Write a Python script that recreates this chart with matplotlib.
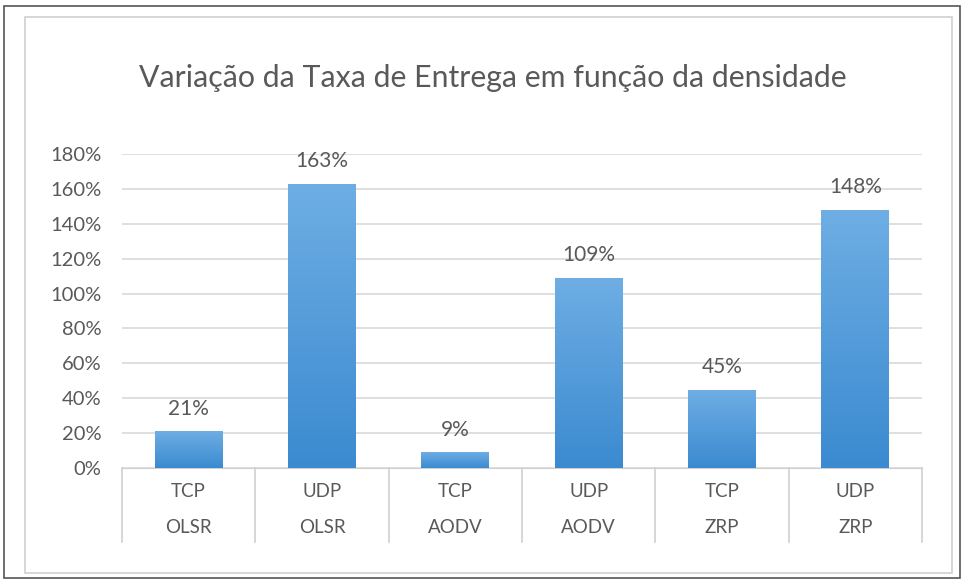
import matplotlib
matplotlib.use("Agg")
import matplotlib.pyplot as plt
import numpy as np
from matplotlib.patches import Rectangle
from matplotlib.colors import LinearSegmentedColormap
import matplotlib.transforms as mtransforms

protocols = ["TCP", "UDP", "TCP", "UDP", "TCP", "UDP"]
routing = ["OLSR", "OLSR", "AODV", "AODV", "ZRP", "ZRP"]
values = [0.21, 1.63, 0.09, 1.09, 0.45, 1.48]
labels = ["21%", "163%", "9%", "109%", "45%", "148%"]
yticks = [0, 0.2, 0.4, 0.6, 0.8, 1.0, 1.2, 1.4, 1.6, 1.8]
ytick_labels = ["0%", "20%", "40%", "60%", "80%", "100%", "120%", "140%", "160%", "180%"]
title = "Variação da Taxa de Entrega em função da densidade"

plt.rcParams['font.family'] = ['Lato', 'DejaVu Sans']
txt = "#595959"
W, H = 964, 582
fig = plt.figure(figsize=(W/100, H/100), dpi=100)
fig.patch.set_facecolor("white")

# borders
fig.patches.append(Rectangle((4/W, 1-578/H), 956/W, 572/H, transform=fig.transFigure,
                             fill=False, edgecolor="#555555", lw=1.2))
fig.patches.append(Rectangle((25/W, 1-573/H), 927/W, 556/H, transform=fig.transFigure,
                             fill=False, edgecolor="#d0d0d0", lw=1.2))

ax = fig.add_axes([122/W, 1-468/H, 800/W, 314/H])
n = len(values)
x = np.arange(n)
ax.set_xlim(-0.5, n-0.5)
ax.set_ylim(0, 1.8)
ax.set_yticks(yticks)
ax.set_yticklabels(ytick_labels, color=txt, fontsize=14.5)
ax.tick_params(axis='y', length=0, pad=15)
ax.set_xticks([])
for s in ["top", "right", "left"]:
    ax.spines[s].set_visible(False)
ax.spines["bottom"].set_color("#d0d0d0")
ax.yaxis.grid(True, color="#d9d9d9", lw=1.2)
ax.set_axisbelow(True)

cmap = LinearSegmentedColormap.from_list("g", ["#3b8ad0", "#6eaee4"])
grad = np.linspace(0, 1, 256).reshape(-1, 1)
bw = 0.51
bars = ax.bar(x, values, width=bw, color="#5b9bd5", zorder=2)
for b, v, lab in zip(bars, values, labels):
    x0 = b.get_x()
    im = ax.imshow(grad, extent=(x0, x0+bw, 0, v), origin="lower", aspect="auto",
                   cmap=cmap, zorder=3)
    im.set_clip_path(b)
    ax.annotate(lab, (b.get_x()+bw/2, v), xytext=(0, 12), textcoords="offset points",
                ha="center", va="baseline", fontsize=15, color=txt)

trans = mtransforms.blended_transform_factory(ax.transData, ax.transAxes)
for i in range(n+1):
    ax.plot([i-0.5, i-0.5], [0, -0.236], transform=trans, color="#d0d0d0",
            lw=1.2, clip_on=False)
for i in range(n):
    ax.text(i, -0.075, protocols[i], transform=trans, ha="center", va="center",
            fontsize=13.5, color=txt)
    ax.text(i, -0.19, routing[i], transform=trans, ha="center", va="center",
            fontsize=13.5, color=txt)

fig.text(493/W, 1-78/H, title, ha="center", va="center", fontsize=21.8, color=txt)

fig.savefig("out.png", dpi=100, facecolor="white")
